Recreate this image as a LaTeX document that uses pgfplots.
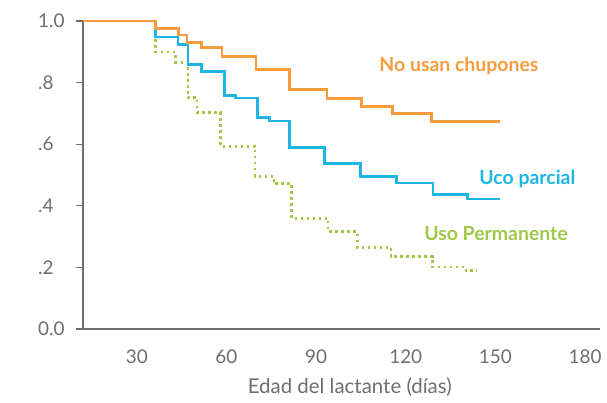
\documentclass[border=0pt]{standalone}
\usepackage{pgfplots}
\pgfplotsset{compat=1.18}
\usepackage{fontspec}
\setmainfont{Lato}
\definecolor{cor}{RGB}{247,155,60}
\definecolor{cbl}{RGB}{28,182,228}
\definecolor{cgr}{RGB}{160,200,70}
\definecolor{cax}{RGB}{110,110,110}
\begin{document}
\begin{tikzpicture}
\begin{axis}[
  scale only axis, width=517bp, height=308bp,
  xmin=12, xmax=185, ymin=0, ymax=1,
  axis x line*=bottom, axis y line*=left,
  axis line style={cax, line width=1.4bp, -},
  xtick={30,60,90,120,150,180},
  ytick={0,0.2,0.4,0.6,0.8,1},
  yticklabels={0.0,.2,.4,.6,.8,1.0},
  /pgf/number format/assume math mode=true,
  xtick style={draw=none},
  ytick style={cax, line width=1.2bp},
  tick align=outside, major tick length=7bp,
  every tick label/.append style={font=\fontsize{19}{21}\selectfont, text=cax, inner sep=0pt},
  xticklabel style={anchor=center, yshift=-21bp},
  yticklabel style={anchor=west, xshift=-38bp},
  xlabel={Edad del lactante (días)},
  xlabel style={font=\fontsize{20.5}{23}\selectfont, text=cax, at={(rel axis cs:0.516,0)}, anchor=center, yshift=-58bp},
  clip=false,
]
\addplot[const plot, cgr, line width=2.6bp, dash pattern=on 2.6bp off 3.4bp] coordinates {
(36.3,0.96) (36.3,0.899) (43,0.866) (47.1,0.751) (50.2,0.702) (58,0.593) (69.6,0.496) (75.9,0.472) (81.8,0.359) (94,0.316) (103.8,0.265) (115,0.235) (129,0.201) (140.2,0.189) (143.9,0.189)};
\addplot[const plot, cbl, line width=2.7bp] coordinates {
(36.3,1) (36.3,0.948) (43.8,0.923) (47.1,0.859) (51.6,0.835) (59.4,0.759) (63,0.750) (70.3,0.686) (74.4,0.675) (81.2,0.589) (92.8,0.537) (104.9,0.496) (116.9,0.474) (129.1,0.437) (140.6,0.422) (151.5,0.422)};
\addplot[const plot, cor, line width=2.7bp] coordinates {
(12,1) (36.3,0.975) (44,0.955) (46.8,0.931) (51.6,0.913) (58.5,0.885) (69.9,0.842) (81.2,0.778) (93.6,0.748) (105.2,0.723) (115.5,0.699) (128.7,0.674) (151.5,0.674)};
\node[font=\fontsize{19.5}{22}\selectfont\bfseries, text=cor, anchor=base] at (axis cs:137.8,0.836) {No usan chupones};
\node[font=\fontsize{19.5}{22}\selectfont\bfseries, text=cbl, anchor=base] at (axis cs:160.7,0.469) {Uco parcial};
\node[font=\fontsize{19.5}{22}\selectfont\bfseries, text=cgr, anchor=base] at (axis cs:150.2,0.2885) {Uso Permanente};
\end{axis}
\pgfresetboundingbox
\path[use as bounding box] (-83bp,-74bp) rectangle (524bp,329bp);
\end{tikzpicture}
\end{document}
